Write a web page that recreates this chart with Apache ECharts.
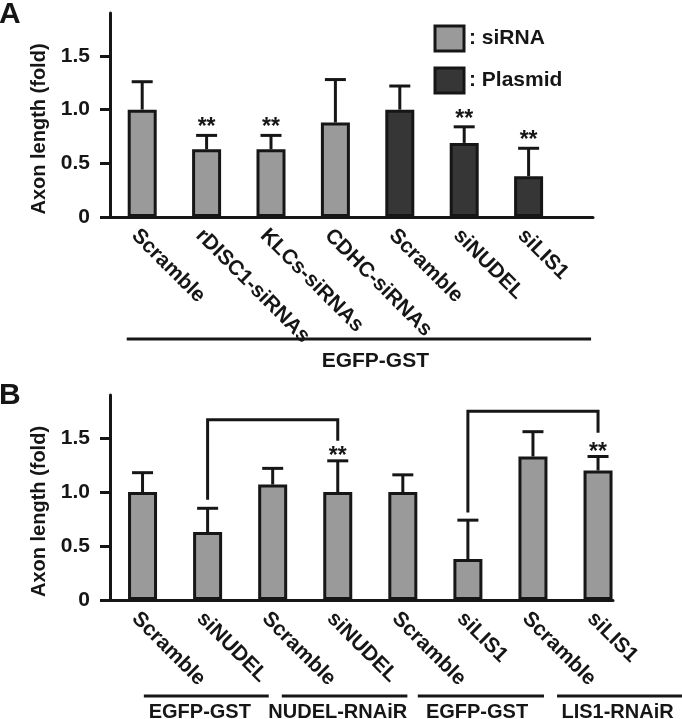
<!DOCTYPE html>
<html><head><meta charset="utf-8">
<script src="https://cdn.jsdelivr.net/npm/echarts@6/dist/echarts.min.js"></script>
<style>html,body{margin:0;padding:0;background:#fff}#c{width:682px;height:719px}</style>
</head><body><div id="c"></div>
<script>
// ---------- data ----------
const catsA = ['Scramble','rDISC1-siRNAs','KLCs-siRNAs','CDHC-siRNAs','Scramble','siNUDEL','siLIS1'];
const typeA = ['siRNA','siRNA','siRNA','siRNA','Plasmid','Plasmid','Plasmid'];
const meanA = [1.00, 0.63, 0.63, 0.88, 1.00, 0.69, 0.38];
const errA  = [0.26, 0.13, 0.13, 0.40, 0.22, 0.15, 0.26];
const sigA  = [0, 1, 1, 0, 0, 1, 1];

const catsB = ['Scramble','siNUDEL','Scramble','siNUDEL','Scramble','siLIS1','Scramble','siLIS1'];
const meanB = [1.00, 0.63, 1.07, 1.00, 1.00, 0.38, 1.33, 1.20];
const errB  = [0.18, 0.22, 0.15, 0.29, 0.16, 0.36, 0.23, 0.13];
const sigB  = [0, 0, 0, 1, 0, 0, 0, 1];
// [from index, to index, bracket top, left end, right end]
const bracketsB = [[1, 3, 1.67, 0.93, 1.475], [5, 7, 1.75, 0.81, 1.55]];

const yTicks = [0, 0.5, 1.0, 1.5];
const legendNames = ['siRNA', 'Plasmid'];
// [label, line start, line end, text centre] in category units
const groupsA = [['EGFP-GST', -0.24, 6.97, 3.62]];
const groupsB = [['EGFP-GST', 0.02, 1.94, 0.88], ['NUDEL-RNAiR', 2.14, 4.07, 3.0],
                 ['EGFP-GST', 4.23, 6.17, 5.14], ['LIS1-RNAiR', 6.37, 8.29, 7.3]];

// ---------- style ----------
const FONT = '"Liberation Sans", Arial, Helvetica, sans-serif';
const INK = '#161616';
const LIGHT = '#9a9a9a';
const DARK = '#363636';

const chart = echarts.init(document.getElementById('c'), null, {renderer: 'canvas'});

function yAxis(gi) {
  return {
    type: 'value', gridIndex: gi, min: 0, max: 1.9,
    axisLine: {show: true, onZero: false, lineStyle: {color: INK, width: 3}},
    axisTick: {show: true, length: 10, customValues: yTicks, lineStyle: {color: INK, width: 3}},
    axisLabel: {customValues: yTicks, formatter: v => v === 0 ? '0' : v.toFixed(1),
      fontFamily: FONT, fontWeight: 'bold', fontSize: 21, color: INK, margin: 20},
    splitLine: {show: false},
    name: 'Axon length (fold)', nameLocation: 'middle', nameRotate: 90, nameGap: 58,
    nameTextStyle: {fontFamily: FONT, fontWeight: 'bold', fontSize: 20, color: INK, padding: [0, 28, 0, 0]}
  };
}
function xAxis(gi, cats, max) {
  return {
    type: 'value', gridIndex: gi, min: -0.5, max: max,
    axisLine: {show: true, onZero: false, lineStyle: {color: INK, width: 3}},
    axisTick: {show: false}, splitLine: {show: false},
    axisLabel: {customValues: cats.map((c, i) => i), formatter: v => cats[Math.round(v)],
      rotate: -45, margin: 8, verticalAlign: 'top',
      fontFamily: FONT, fontWeight: 'bold', fontSize: 21, color: INK}
  };
}
function errRender(starGap) {
  return function (params, api) {
    const x = api.value(0), m = api.value(1), t = api.value(2), s = api.value(3);
    const p0 = api.coord([x, m]), p1 = api.coord([x, t]);
    const ch = [
      {type: 'line', shape: {x1: p0[0], y1: p0[1], x2: p1[0], y2: p1[1]}, style: {stroke: INK, lineWidth: 3}},
      {type: 'line', shape: {x1: p1[0] - 10.5, y1: p1[1], x2: p1[0] + 10.5, y2: p1[1]}, style: {stroke: INK, lineWidth: 3}}
    ];
    if (s) ch.push({type: 'text', x: p1[0], y: p1[1] - starGap,
      style: {text: '**', fill: INK, fontFamily: FONT, fontWeight: 'bold', fontSize: 23, align: 'center', verticalAlign: 'bottom'}});
    return {type: 'group', children: ch};
  };
}
function bracketRender(params, api) {
  const a = api.value(0), b = api.value(1), top = api.value(2), l = api.value(3), r = api.value(4);
  const pts = [api.coord([a, l]), api.coord([a, top]), api.coord([b, top]), api.coord([b, r])];
  return {type: 'polyline', shape: {points: pts}, style: {stroke: INK, lineWidth: 3, fill: null}};
}
const barStyle = c => ({color: c, borderColor: INK, borderWidth: 3});

const option = {
  animation: false,
  backgroundColor: '#fff',
  grid: [
    {left: 110, top: 13, width: 483, height: 204},
    {left: 110, top: 395, width: 503, height: 205}
  ],
  xAxis: [xAxis(0, catsA, 7.0), xAxis(1, catsB, 7.23)],
  yAxis: [yAxis(0), yAxis(1)],
  legend: {
    data: legendNames, orient: 'vertical', left: 433.5, top: 24.5, padding: 0,
    icon: 'rect', itemWidth: 29, itemHeight: 25, itemGap: 14, selectedMode: false,
    formatter: ': {name}',
    textStyle: {fontFamily: FONT, fontWeight: 'bold', fontSize: 21, color: INK},
    itemStyle: {borderColor: INK, borderWidth: 3}
  },
  series: [
    {name: 'siRNA', type: 'bar', xAxisIndex: 0, yAxisIndex: 0, barWidth: 29, barGap: '-100%',
     itemStyle: barStyle(LIGHT),
     data: meanA.map((v, i) => typeA[i] === 'siRNA' ? [i, v] : null).filter(d => d)},
    {name: 'Plasmid', type: 'bar', xAxisIndex: 0, yAxisIndex: 0, barWidth: 29, barGap: '-100%',
     itemStyle: barStyle(DARK),
     data: meanA.map((v, i) => typeA[i] === 'Plasmid' ? [i, v] : null).filter(d => d)},
    {name: 'errA', type: 'custom', xAxisIndex: 0, yAxisIndex: 0, z: 5, renderItem: errRender(-4),
     data: meanA.map((v, i) => [i, v, +(v + errA[i]).toFixed(3), sigA[i]])},
    {name: 'siRNA-B', type: 'bar', xAxisIndex: 1, yAxisIndex: 1, barWidth: 29,
     itemStyle: barStyle(LIGHT), data: meanB.map((v, i) => [i, v])},
    {name: 'errB', type: 'custom', xAxisIndex: 1, yAxisIndex: 1, z: 5, renderItem: errRender(-7.5),
     data: meanB.map((v, i) => [i, v, +(v + errB[i]).toFixed(3), sigB[i]])},
    {name: 'brackets', type: 'custom', xAxisIndex: 1, yAxisIndex: 1, z: 5, renderItem: bracketRender,
     data: bracketsB}
  ]
};
chart.setOption(option);

// annotations: panel letters and group labels under the axes
function groupGraphics(groups, gi, lineY, textY, size) {
  const out = [];
  groups.forEach(g => {
    const x1 = chart.convertToPixel({gridIndex: gi}, [g[1], 0])[0];
    const x2 = chart.convertToPixel({gridIndex: gi}, [g[2], 0])[0];
    const xt = chart.convertToPixel({gridIndex: gi}, [g[3], 0])[0];
    out.push({type: 'line', shape: {x1: x1, y1: lineY, x2: x2, y2: lineY}, style: {stroke: INK, lineWidth: 3}});
    out.push({type: 'text', x: xt, y: textY, style: {text: g[0], fill: INK, fontFamily: FONT,
      fontWeight: 'bold', fontSize: size, align: 'center', verticalAlign: 'middle'}});
  });
  return out;
}
const g = [
  {type: 'text', x: -1, y: 0, style: {text: 'A', fill: INK, fontFamily: FONT, fontWeight: 'bold', fontSize: 30, align: 'left', verticalAlign: 'top'}},
  {type: 'text', x: -1, y: 381, style: {text: 'B', fill: INK, fontFamily: FONT, fontWeight: 'bold', fontSize: 30, align: 'left', verticalAlign: 'top'}}
].concat(groupGraphics(groupsA, 0, 339, 361, 21)).concat(groupGraphics(groupsB, 1, 696, 712, 20));
chart.setOption({graphic: g});
</script>
</body></html>
